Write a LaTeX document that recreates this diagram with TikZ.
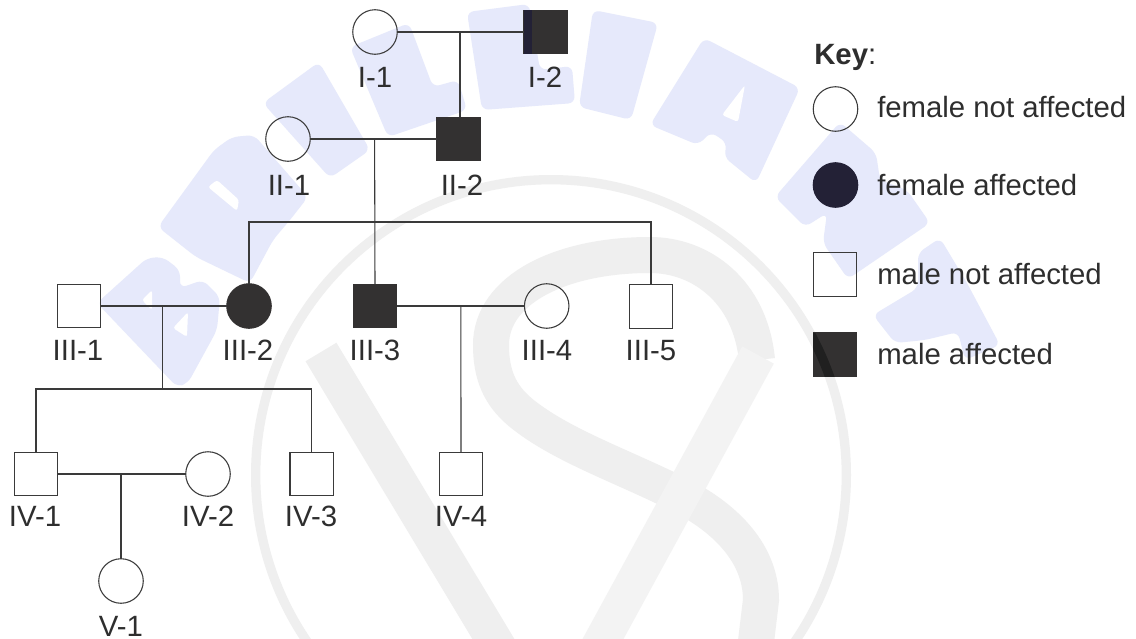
\documentclass[tikz,border=0pt]{standalone}
\usepackage{fontspec}
\setmainfont{Liberation Sans}
\definecolor{wmblue}{HTML}{E6E9FB}
\definecolor{wmgray}{HTML}{EFEFEF}
\definecolor{wmgraylt}{HTML}{F3F3F3}
\definecolor{ink}{HTML}{2E2E2E}
\definecolor{linec}{HTML}{3A3A3A}
\definecolor{darkfill}{HTML}{333131}
\definecolor{navy}{HTML}{232136}
\definecolor{darkband}{HTML}{202020}
\tikzset{
  x=0.75pt,y=-0.75pt,
  base/.style={inner sep=0pt,outer sep=0pt,line width=0.8pt,draw=linec},
  fem/.style={base,circle,minimum size=33.4pt},
  mal/.style={base,rectangle,minimum size=32.6pt},
  femaff/.style={fem,fill=darkfill,draw=darkfill},
  malaff/.style={mal,fill=darkfill,draw=darkfill},
  lab/.style={anchor=base,inner sep=0pt,text=ink,font=\fontsize{22}{26}\selectfont},
  keytxt/.style={anchor=base west,inner sep=0pt,text=ink,font=\fontsize{22}{26}\selectfont},
  conn/.style={line width=0.8pt,draw=linec},
  letter/.style={fill=wmblue,rounded corners=5pt},
  hole/.style={fill=white,rounded corners=2pt},
  wmstroke/.style={draw=wmgray,line width=27pt},
}
\begin{document}
\begin{tikzpicture}
\useasboundingbox (0,0) rectangle (1136,639);
\fill[white] (0,0) rectangle (1136,639);
\begin{scope}
\clip (0,0) rectangle (1136,639);
% gray watermark
\draw[wmgray,line width=7pt] (551,475) circle[radius=221.5pt];
\draw[wmstroke] (757,360) .. controls (750,290) and (700,255) .. (650,255)
  .. controls (560,255) and (491,290) .. (491,345)
  .. controls (491,375) and (500,395) .. (520,412)
  .. controls (560,445) and (620,465) .. (680,495)
  .. controls (720,515) and (761,550) .. (761,600) -- (755,650);
\draw[wmstroke] (321,352) -- (500,650);
\draw[wmstroke,draw=wmgraylt] (758,355) -- (597,650);
% blue watermark letters
\fill[letter] (97,303) -- (147,258) -- (163,257) -- (180,270) -- (180,288) -- (203,280) -- (220,297) -- (217,330) -- (188,383) -- (177,387) -- cycle;
\fill[hole] (142,300) -- (152,290) -- (152,310) -- cycle;
\fill[hole] (173,328) -- (188,312) -- (187,337) -- cycle;
\fill[letter] (158,227) -- (214,150) -- (232,137) -- (254,135) -- (308,197) -- (290,220) -- (273,240) -- (250,283) -- (196,257) -- cycle;
\fill[hole] (208,187) -- (217,180) -- (239,200) -- (237,211) -- cycle;
\fill[letter] (263,103) -- (319,62) -- (370,150) -- (330,178) -- cycle;
\fill[letter] (350,47) -- (409,23) -- (433,87) -- (458,80) -- (467,110) -- (388,137) -- cycle;
\fill[letter] (467,12) -- (529,4) -- (540,70) -- (572,66) -- (575,103) -- (482,110) -- cycle;
\fill[letter] (593,10) -- (658,23) -- (631,120) -- (579,107) -- cycle;
\fill[letter] (704,38) -- (800,88) -- (756,183) -- (724,157) -- (727,143) -- (711,132) -- (698,145) -- (650,125) -- cycle;
\fill[hole] (745,85) -- (738,122) -- (722,115) -- cycle;
\fill[letter] (840,122) -- (876,153) -- (880,180) -- (907,190) -- (930,223) -- (848,279) -- (823,243) -- (827,213) -- (805,227) -- (775,197) -- cycle;
\fill[letter] (918,253) -- (940,238) -- (967,283) -- (1000,345) -- (965,360) -- (958,332) -- (925,340) -- (895,343) -- (873,315) -- (918,288) -- cycle;
\end{scope}
% generation I
\node[fem] (I1) at (375,32) {};
\node[malaff] (I2) at (545.5,32) {};
\fill[navy] (523.5,10) rectangle (532,54);
\node[lab] (LI1) at (375,87) {I-1};
\node[lab] (LI2) at (545,87) {I-2};
% generation II
\node[fem] (II1) at (288,139) {};
\node[malaff] (II2) at (458.5,139) {};
\node[lab] (LII1) at (289,195.5) {II-1};
\node[lab] (LII2) at (462,195.5) {II-2};
% generation III
\node[mal] (III1) at (79,306) {};
\node[femaff] (III2) at (249,306) {};
\node[malaff] (III3) at (375,306) {};
\node[fem] (III4) at (546.7,306) {};
\node[mal] (III5) at (651,306.5) {};
\node[lab] (LIII1) at (78,360.5) {III-1};
\node[lab] (LIII2) at (248,360.5) {III-2};
\node[lab] (LIII3) at (375,360.5) {III-3};
\node[lab] (LIII4) at (547,360.5) {III-4};
\node[lab] (LIII5) at (651,360.5) {III-5};
% generation IV
\node[mal] (IV1) at (36,474) {};
\node[fem] (IV2) at (208,474) {};
\node[mal] (IV3) at (311.7,474) {};
\node[mal] (IV4) at (461,474) {};
\node[lab] (LIV1) at (35,526.5) {IV-1};
\node[lab] (LIV2) at (208,526.5) {IV-2};
\node[lab] (LIV3) at (311,526.5) {IV-3};
\node[lab] (LIV4) at (461,526.5) {IV-4};
% generation V
\node[fem] (V1) at (121,581) {};
\node[lab] (LV1) at (121,636) {V-1};
% junction points
\coordinate (j1) at (460,32);
\coordinate (j2) at (374.6,139);
\coordinate (j3) at (162.7,306);
\coordinate (j4) at (460.9,306);
\coordinate (j5) at (121,474);
\coordinate (b1) at (374.6,222);
\coordinate (b2) at (162.7,389);
% couples
\draw[conn] (I1.east) -- (I2.west);
\draw[conn] (II1.east) -- (II2.west);
\draw[conn] (III1.east) -- (III2.west);
\draw[conn] (III3.east) -- (III4.west);
\draw[conn] (IV1.east) -- (IV2.west);
% descents
\draw[conn] (j1) -- (j1 |- II2.north);
\draw[conn] (j2) -- (III3.north);
\draw[conn] (j3) -- (b2);
\draw[conn] (j4) -- (IV4.north);
\draw[conn] (j5) -- (V1.north);
% sibling bars
\draw[conn] (III2.north) -- (III2.north |- b1) -- (III5.north |- b1) -- (III5.north);
\draw[conn] (IV1.north) -- (IV1.north |- b2) -- (IV3.north |- b2) -- (IV3.north);
% key
\node[keytxt] (KT) at (814,64) {\bfseries Key\mdseries:};
\node[fem] (K1) at (835.5,109) {};
\node[fem,fill=navy,draw=navy] (K2) at (835.5,185) {};
\node[mal] (K3) at (835,274.5) {};
\node[malaff] (K4) at (835,354.5) {};
\begin{scope}
\clip (813,333) rectangle (857,376.5);
\draw[darkband,line width=7pt] (551,475) circle[radius=221.5pt];
\end{scope}
\node[keytxt] (T1) at (877,117) {female not affected};
\node[keytxt] (T2) at (877,195) {female affected};
\node[keytxt] (T3) at (877,284.5) {male not affected};
\node[keytxt] (T4) at (877,364.5) {male affected};
\end{tikzpicture}
\end{document}
